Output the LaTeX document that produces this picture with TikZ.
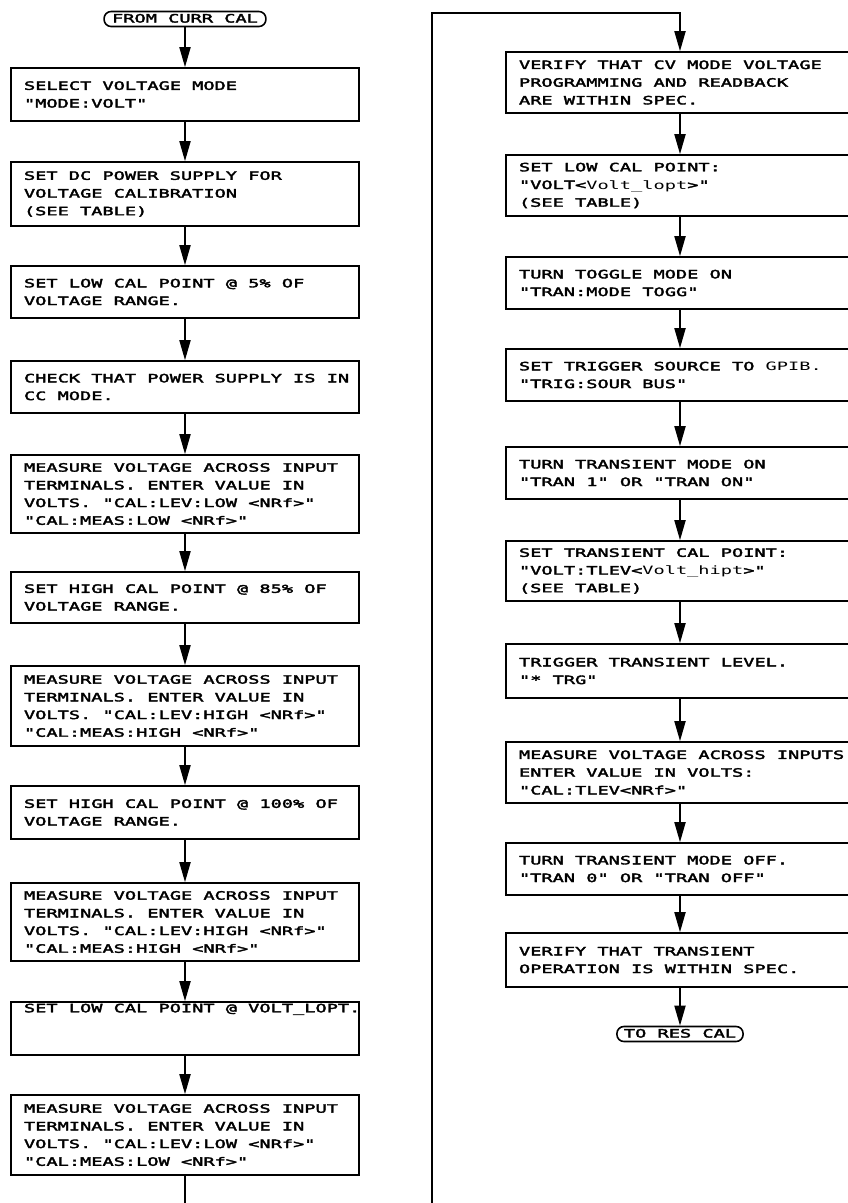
\documentclass[tikz,border=0pt]{standalone}
\usepackage{fontspec}
\newfontfamily\plotfont[FakeStretch=1.62,FakeBold=3]{DejaVu Sans Mono}
\newfontfamily\plotlight[FakeStretch=1.62]{DejaVu Sans Mono}
\newcommand{\plotsize}{\plotfont\fontsize{11.5}{17.7}\selectfont}
\usetikzlibrary{arrows.meta}

\tikzset{
  stepbox/.style={draw,line width=1.6pt,rectangle,text width=322pt,inner xsep=13pt,
    inner ysep=0pt,align=left,font=\plotsize,
    execute at begin node={\spaceskip=11.2pt\xspaceskip=11.2pt}},
  termbox/.style={draw,line width=1.6pt,rounded corners=7pt,inner xsep=8pt,inner ysep=3pt,
    text height=8pt,text depth=1pt,font=\plotsize},
  flow/.style={line width=1.8pt}
}

\begin{document}
\begin{tikzpicture}[x=1pt,y=-1pt,>={Triangle[length=20pt,width=11pt]}]
  \path[fill=white,use as bounding box] (0,0) rectangle (848,1203);
  % left column
  \node[termbox] (from) at (185,19) {FROM CURR CAL};
  \node[stepbox,minimum height=53pt] (l1) at (185,94.5) {SELECT VOLTAGE MODE\\"MODE:VOLT"};
  \node[stepbox,minimum height=64pt] (l2) at (185,194) {SET DC POWER SUPPLY FOR\\VOLTAGE CALIBRATION\\(SEE TABLE)};
  \node[stepbox,minimum height=52pt] (l3) at (185,292) {SET LOW CAL POINT @ 5\% OF\\VOLTAGE RANGE.};
  \node[stepbox,minimum height=52pt] (l4) at (185,387) {\mbox{CHECK THAT POWER SUPPLY IS IN}\\CC MODE.};
  \node[stepbox,minimum height=78pt] (l5) at (185,494) {MEASURE VOLTAGE ACROSS INPUT\\TERMINALS. ENTER VALUE IN\\VOLTS. "CAL:LEV:LOW <NRf>"\\"CAL:MEAS:LOW <NRf>"};
  \node[stepbox,minimum height=51pt] (l6) at (185,597.5) {SET HIGH CAL POINT @ 85\% OF\\VOLTAGE RANGE.};
  \node[stepbox,minimum height=80pt] (l7) at (185,706) {MEASURE VOLTAGE ACROSS INPUT\\TERMINALS. ENTER VALUE IN\\VOLTS. "CAL:LEV:HIGH <NRf>"\\"CAL:MEAS:HIGH <NRf>"};
  \node[stepbox,minimum height=53pt] (l8) at (185,812.5) {SET HIGH CAL POINT @ 100\% OF\\VOLTAGE RANGE.};
  \node[stepbox,minimum height=78pt] (l9) at (185,922) {MEASURE VOLTAGE ACROSS INPUT\\TERMINALS. ENTER VALUE IN\\VOLTS. "CAL:LEV:HIGH <NRf>"\\"CAL:MEAS:HIGH <NRf>"};
  \node[stepbox,minimum height=53pt,text depth=41pt] (l10) at (185,1028.5) {\mbox{SET LOW CAL POINT @ VOLT\_LOPT.}};
  \node[stepbox,minimum height=80pt] (l11) at (185,1135) {MEASURE VOLTAGE ACROSS INPUT\\TERMINALS. ENTER VALUE IN\\VOLTS. "CAL:LEV:LOW <NRf>"\\"CAL:MEAS:LOW <NRf>"};
  \coordinate (ltail) at (185,1203);
  % right column
  \node[stepbox,minimum height=61pt] (r1) at (680,82.5) {VERIFY THAT CV MODE VOLTAGE\\PROGRAMMING AND READBACK\\ARE WITHIN SPEC.};
  \node[stepbox,minimum height=61pt] (r2) at (680,185.5) {SET LOW CAL POINT:\\"VOLT<{\plotlight Volt\_lopt}>"\\(SEE TABLE)};
  \node[stepbox,minimum height=52pt] (r3) at (680,283) {TURN TOGGLE MODE ON\\"TRAN:MODE TOGG"};
  \node[stepbox,minimum height=52pt] (r4) at (680,375) {SET TRIGGER SOURCE TO {\plotlight GPIB.}\\"TRIG:SOUR BUS"};
  \node[stepbox,minimum height=52pt] (r5) at (680,473) {TURN TRANSIENT MODE ON\\"TRAN 1" OR "TRAN ON"};
  \node[stepbox,minimum height=60pt] (r6) at (680,571) {SET TRANSIENT CAL POINT:\\"VOLT:TLEV<{\plotlight Volt\_hipt}>"\\(SEE TABLE)};
  \node[stepbox,minimum height=54pt] (r7) at (680,671) {TRIGGER TRANSIENT LEVEL.\\"* TRG"};
  \node[stepbox,minimum height=61pt] (r8) at (680,772.5) {\mbox{MEASURE VOLTAGE ACROSS INPUTS.}\\ENTER VALUE IN VOLTS:\\"CAL:TLEV<NRf>"};
  \node[stepbox,minimum height=52pt] (r9) at (680,869) {TURN TRANSIENT MODE OFF.\\"TRAN 0" OR "TRAN OFF"};
  \node[stepbox,minimum height=54pt] (r10) at (680,960) {VERIFY THAT TRANSIENT\\OPERATION IS WITHIN SPEC.};
  \node[termbox,inner xsep=7pt] (to) at (680,1034) {TO RES CAL};
  \coordinate (rin) at (432,1203);
  \coordinate (rtop) at (680,13);
  % connectors
  \draw[flow,->] (from) -- (l1);
  \draw[flow,->] (l1) -- (l2);
  \draw[flow,->] (l2) -- (l3);
  \draw[flow,->] (l3) -- (l4);
  \draw[flow,->] (l4) -- (l5);
  \draw[flow,->] (l5) -- (l6);
  \draw[flow,->] (l6) -- (l7);
  \draw[flow,->] (l7) -- (l8);
  \draw[flow,->] (l8) -- (l9);
  \draw[flow,->] (l9) -- (l10);
  \draw[flow,->] (l10) -- (l11);
  \draw[flow] (l11) -- (ltail);
  \draw[flow,->] (rin) |- (rtop) -- (r1);
  \draw[flow,->] (r1) -- (r2);
  \draw[flow,->] (r2) -- (r3);
  \draw[flow,->] (r3) -- (r4);
  \draw[flow,->] (r4) -- (r5);
  \draw[flow,->] (r5) -- (r6);
  \draw[flow,->] (r6) -- (r7);
  \draw[flow,->] (r7) -- (r8);
  \draw[flow,->] (r8) -- (r9);
  \draw[flow,->] (r9) -- (r10);
  \draw[flow,->] (r10) -- (to);
\end{tikzpicture}
\end{document}
